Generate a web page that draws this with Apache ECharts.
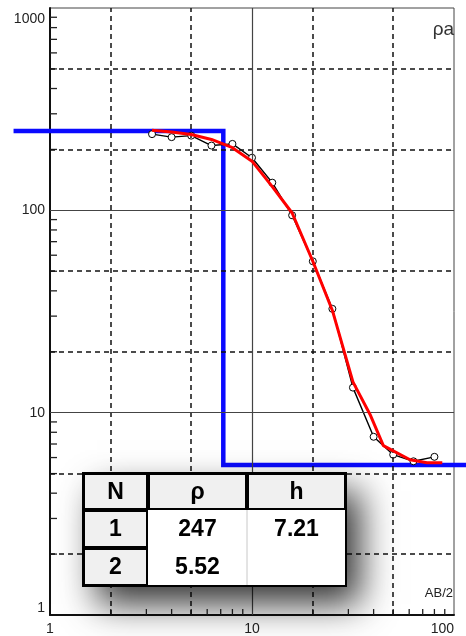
<!DOCTYPE html>
<html><head><meta charset="utf-8">
<script src="https://cdn.jsdelivr.net/npm/echarts@6/dist/echarts.min.js"></script>
<style>html,body{margin:0;padding:0;background:#fff}#c{width:466px;height:636px}</style>
</head><body><div id="c"></div><script>
// observed sounding data (AB/2, apparent resistivity)
const obsAB2 = [3.2, 4.0, 5.0, 6.3, 8.0, 10, 12.6, 15.8, 20, 25, 31.6, 40, 50, 63, 80];
const obsRho = [238, 230, 234, 209, 213, 182, 137, 94.5, 56, 32.6, 13.3, 7.6, 6.2, 5.75, 6.05];
// model (computed) curve
const modAB2 = [3.2, 4.0, 5.0, 6.3, 8.0, 10, 12.6, 15.8, 20, 25, 31.6, 38.4, 44.7, 60.6, 73.5, 87.5];
const modRho = [249, 244, 237, 224, 204, 175, 131, 97, 56, 32, 14.2, 9.8, 6.87, 5.85, 5.66, 5.66];
// layered model
const layerN = ['1', '2'];
const layerRho = [247, 5.52];
const layerH = [7.21];
const modelLeftAB2 = 0.66, modelRightAB2 = 115;
// axes
const xTickLabels = ['1', '10', '100'];
const yTickLabels = ['1', '10', '100', '1000'];
const xDashed = [2, 5, 20, 50];
const xSolid = [10];
const yDashed = [2, 5, 20, 50, 200, 500];
const ySolid = [10, 100];
const xMinor = [2,3,4,5,6,7,8,9,20,30,40,50,60,70,80,90];
const yMinor = [2,3,4,5,6,7,8,9,20,30,40,50,60,70,80,90,200,300,400,500,600,700,800,900];
const tableHead = ['N', 'ρ', 'h'];

const modelLine = [
  [modelLeftAB2, layerRho[0]],
  [layerH[0], layerRho[0]],
  [layerH[0], layerRho[1]],
  [modelRightAB2, layerRho[1]]
];

const chart = echarts.init(document.getElementById('c'), null, {renderer: 'canvas'});
const FONT = '"Liberation Sans", Arial, sans-serif';

// table graphic
const T = {left: 83, top: 473, cols: [65, 99, 99], rows: [37, 38, 38]};
function colX(i){ let x = T.left; for (let k=0;k<i;k++) x += T.cols[k]; return x; }
function rowY(i){ let y = T.top; for (let k=0;k<i;k++) y += T.rows[k]; return y; }
const TW = T.cols.reduce((a,b)=>a+b,0), TH = T.rows.reduce((a,b)=>a+b,0);
const tableEls = [];
tableEls.push({type:'rect', shape:{x:T.left, y:T.top, width:TW, height:TH},
  style:{fill:'#fff', shadowBlur:34, shadowOffsetX:14, shadowOffsetY:18, shadowColor:'rgba(0,0,0,0.8)'}, z:100});
tableEls.push({type:'rect', shape:{x:T.left, y:T.top, width:TW, height:TH}, style:{fill:'#fff'}, z:101});
function grayCell(c, r){
  tableEls.push({type:'rect', shape:{x:colX(c)+1, y:rowY(r)+1, width:T.cols[c]-2, height:T.rows[r]-2},
    style:{fill:'#f0f0f0', stroke:'#000', lineWidth:2}, z:102});
}
for (let c=0;c<3;c++) grayCell(c,0);
for (let r=1;r<3;r++) grayCell(0,r);
tableEls.push({type:'line', shape:{x1:colX(2), y1:rowY(1), x2:colX(2), y2:rowY(3)}, style:{stroke:'#c8c8c8', lineWidth:1}, z:102});
tableEls.push({type:'rect', shape:{x:T.left, y:T.top, width:TW, height:TH}, style:{fill:null, stroke:'#000', lineWidth:2}, z:103});
function cellText(c, r, txt){
  tableEls.push({type:'text', x:colX(c)+T.cols[c]/2, y:rowY(r)+T.rows[r]/2+1,
    style:{text:txt, font:'bold 23px ' + FONT, fill:'#000', align:'center', verticalAlign:'middle'}, z:104});
}
tableHead.forEach((t,i)=>cellText(i,0,t));
layerN.forEach((t,i)=>cellText(0,i+1,t));
layerRho.forEach((v,i)=>cellText(1,i+1,String(v)));
layerH.forEach((v,i)=>cellText(2,i+1,String(v)));

function lineMark(list, axis, dashed){
  return list.map(v => ({[axis]: v, lineStyle: dashed
    ? {type:[5,4], color:'#111', width:1.5}
    : {type:'solid', color:'#444', width:1.2}}));
}

// pixel position along a log axis through the library's own coords (extrapolating beyond range)
function logPoint(api, x, y){
  const a = api.coord([1, y]), b = api.coord([10, y]);
  const c = api.coord([1, 1]), d = api.coord([1, 10]);
  return [a[0] + Math.log10(x) * (b[0] - a[0]), c[1] + Math.log10(y) * (d[1] - c[1])];
}

const option = {
  animation: false,
  backgroundColor: '#fff',
  grid: {left:50, top:8, width:404, height:607, show:true, borderColor:'#444', borderWidth:1, containLabel:false, outerBoundsMode:'none'},
  xAxis: {
    type:'log', logBase:10, min:1, max:100,
    axisLine:{show:true, onZero:false, lineStyle:{color:'#111', width:2}},
    axisTick:{show:false}, splitLine:{show:false}, minorTick:{show:false}, minorSplitLine:{show:false},
    axisLabel:{color:'#222', fontSize:14, fontFamily:FONT, margin:7, alignMaxLabel:'right',
      formatter: v => xTickLabels[Math.round(Math.log10(v))]}
  },
  yAxis: {
    type:'log', logBase:10, min:1, max:1000,
    axisLine:{show:true, onZero:false, lineStyle:{color:'#111', width:2}},
    axisTick:{show:false}, splitLine:{show:false}, minorTick:{show:false}, minorSplitLine:{show:false},
    axisLabel:{color:'#222', fontSize:14, fontFamily:FONT, margin:5,
      verticalAlignMaxLabel:'top', verticalAlignMinLabel:'bottom', padding:[4,0,0,0],
      formatter: v => yTickLabels[Math.round(Math.log10(v))]}
  },
  series: [
    {type:'line', data:[], silent:true, z:1,
      markLine:{silent:true, symbol:'none', label:{show:false}, animation:false,
        data: [].concat(lineMark(xDashed,'xAxis',true), lineMark(yDashed,'yAxis',true),
                        lineMark(xSolid,'xAxis',false), lineMark(ySolid,'yAxis',false))}},
    {type:'custom', coordinateSystem:'cartesian2d', silent:true, z:2,
      data: xMinor.map(v => [v, 1]),
      renderItem: (p, api) => { const pt = api.coord([api.value(0), 1]);
        return {type:'line', shape:{x1:pt[0], y1:pt[1], x2:pt[0], y2:pt[1]-6}, style:{stroke:'#222', lineWidth:1.3}}; }},
    {type:'custom', coordinateSystem:'cartesian2d', silent:true, z:2,
      data: yMinor.map(v => [1, v]),
      renderItem: (p, api) => { const pt = api.coord([1, api.value(1)]);
        return {type:'line', shape:{x1:pt[0], y1:pt[1], x2:pt[0]+7, y2:pt[1]}, style:{stroke:'#222', lineWidth:1.3}}; }},
    {type:'custom', coordinateSystem:'cartesian2d', silent:true, z:3, clip:false,
      data: [[layerH[0], layerRho[0]]],
      renderItem: (p, api) => ({type:'polyline',
        shape:{points: modelLine.map(q => logPoint(api, q[0], q[1]))},
        style:{stroke:'#0a0aff', lineWidth:4.5, fill:null, lineJoin:'miter'}})},
    {type:'line', name:'observed', data:obsAB2.map((x,i)=>[x, obsRho[i]]), z:4,
      symbol:'circle', symbolSize:7, showSymbol:true,
      lineStyle:{color:'#000', width:1.4},
      itemStyle:{color:'#fff', borderColor:'#000', borderWidth:1}},
    {type:'line', name:'fit', data:modAB2.map((x,i)=>[x, modRho[i]]), z:5, symbol:'none', showSymbol:false,
      lineStyle:{color:'#ff0000', width:3}}
  ],
  graphic: [
    {type:'text', x:454, y:20, style:{text:'ρa', font:'19px ' + FONT, fill:'#333', align:'right', verticalAlign:'top'}, z:50},
    {type:'text', x:453, y:600, style:{text:'AB/2', font:'13px ' + FONT, fill:'#222', align:'right', verticalAlign:'bottom'}, z:50}
  ].concat(tableEls)
};
chart.setOption(option);
</script></body></html>
